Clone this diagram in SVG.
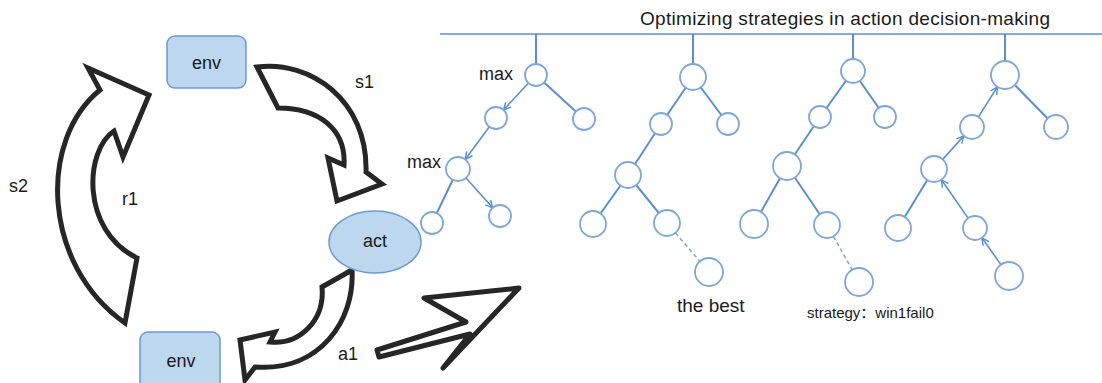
<svg xmlns="http://www.w3.org/2000/svg" width="1102" height="383" viewBox="0 0 1102 383">
<style>
  text { font-family: "Liberation Sans", "Noto Sans CJK SC", sans-serif; fill: #1a1a1a; }
  .box { fill: #bdd7ee; stroke: #6d9bd1; stroke-width: 1.5; }
  .blk { fill: #ffffff; stroke: #262626; stroke-width: 5; stroke-linejoin: miter; stroke-miterlimit: 6; }
  .ln { stroke: #5b8fd0; stroke-width: 2; fill: none; }
  .dash { stroke: #7ea6d8; stroke-width: 1.5; stroke-dasharray: 4 3; fill: none; }
  .arr { stroke: #5b8fd0; stroke-width: 1.6; fill: none; marker-end: url(#v); }
  .nd { fill: #ffffff; stroke: #7ea6d8; stroke-width: 1.8; }
  .lbl { font-size: 18px; }
</style>
<defs>
  <marker id="v" viewBox="0 0 10 10" refX="9" refY="5" markerWidth="9" markerHeight="9" markerUnits="userSpaceOnUse" orient="auto">
    <path d="M1,1 L9,5 L1,9" fill="none" stroke="#5b8fd0" stroke-width="1.6"/>
  </marker>
</defs>
<rect width="1102" height="383" fill="#ffffff"/>

<g id="connectors">
  <!-- cycle block arrows -->
  <path id="arrow-s1" class="blk" d="M257,67 C310,60 368,100 366,172 L382,184 L337,201 L328,158 L344,165 C346,130 320,108 278,108 Z"/>
  <path id="arrow-r1" class="blk" d="M125,323 C42,265 38,140 100,90 L88,68 L149,95 L123,157 L114,131 C85,150 80,230 137,258 Z"/>
  <path id="arrow-a1-curve" class="blk" d="M352,270 C355,320 320,372 255,367 L245,380 L240,340 L275,332 L270,342 C300,345 325,320 322,287 Z"/>
  <path id="arrow-a1" class="blk" style="stroke-linejoin:round" d="M377,350 L466,322 L424,298 L519,288 L443,368 L470,334 L379,357 Z"/>

  <!-- tree top rail -->
  <line class="ln" x1="440" y1="34" x2="1102" y2="34" style="stroke-width:1.6"/>
  <line class="ln" x1="536" y1="34" x2="536" y2="64"/>
  <line class="ln" x1="693" y1="34" x2="693" y2="64"/>
  <line class="ln" x1="853" y1="34" x2="853" y2="59"/>
  <line class="ln" x1="1005" y1="34" x2="1005" y2="61"/>

  <!-- tree 1 -->
  <line class="arr" x1="528.5" y1="83" x2="503.5" y2="110"/>
  <line class="ln" x1="536" y1="75" x2="584" y2="119"/>
  <line class="arr" x1="489.4" y1="126.8" x2="465.2" y2="159.4"/>
  <line class="ln" x1="458" y1="169" x2="432" y2="223"/>
  <line class="arr" x1="466" y1="178" x2="492.7" y2="207.8"/>

  <!-- tree 2 -->
  <line class="ln" x1="693" y1="77" x2="661" y2="124"/>
  <line class="ln" x1="693" y1="77" x2="728" y2="124"/>
  <line class="ln" x1="661" y1="124" x2="628" y2="175"/>
  <line class="ln" x1="628" y1="175" x2="593" y2="224"/>
  <line class="ln" x1="628" y1="175" x2="667" y2="223"/>
  <line class="dash" x1="675.5" y1="232.9" x2="699.9" y2="261.4"/>

  <!-- tree 3 -->
  <line class="ln" x1="853" y1="71" x2="820" y2="117"/>
  <line class="ln" x1="853" y1="71" x2="885" y2="117"/>
  <line class="ln" x1="820" y1="117" x2="787" y2="166"/>
  <line class="ln" x1="787" y1="166" x2="754" y2="224"/>
  <line class="ln" x1="787" y1="166" x2="827" y2="225"/>
  <line class="dash" x1="833.4" y1="236.3" x2="852.2" y2="269.8"/>

  <!-- tree 4 -->
  <line class="arr" x1="978.4" y1="116.9" x2="997.5" y2="86.8"/>
  <line class="ln" x1="1005" y1="75" x2="1056" y2="127"/>
  <line class="arr" x1="942.7" y1="159.4" x2="963.9" y2="135.9"/>
  <line class="ln" x1="934" y1="169" x2="898" y2="228"/>
  <line class="arr" x1="968.1" y1="218.1" x2="941.4" y2="179.7"/>
  <line class="arr" x1="1000.9" y1="264.6" x2="981.9" y2="237.8"/>
</g>

<g id="env-top">
  <rect class="box" x="167" y="36" width="79" height="52" rx="8"/>
  <text class="lbl" x="206.5" y="69" text-anchor="middle">env</text>
</g>
<g id="env-bottom">
  <rect class="box" x="140" y="332" width="80" height="60" rx="8"/>
  <text class="lbl" x="181" y="367" text-anchor="middle">env</text>
</g>
<g id="act">
  <ellipse class="box" cx="375" cy="242" rx="46" ry="31"/>
  <text class="lbl" x="375" y="247" text-anchor="middle">act</text>
</g>

<g id="cycle-labels">
  <text class="lbl" x="355" y="88">s1</text>
  <text class="lbl" x="9" y="192">s2</text>
  <text class="lbl" x="122" y="205">r1</text>
  <text class="lbl" x="338" y="360">a1</text>
</g>

<g id="title">
  <text x="640" y="25" font-size="19" textLength="410">Optimizing strategies in action decision-making</text>
</g>

<g id="tree1">
  <circle class="nd" cx="536" cy="75" r="11"/>
  <circle class="nd" cx="496" cy="118" r="11"/>
  <circle class="nd" cx="584" cy="119" r="11"/>
  <circle class="nd" cx="458" cy="169" r="12"/>
  <circle class="nd" cx="432" cy="223" r="11"/>
  <circle class="nd" cx="500" cy="216" r="11"/>
  <text class="lbl" x="479" y="80">max</text>
  <text class="lbl" x="407" y="168">max</text>
</g>

<g id="tree2">
  <circle class="nd" cx="693" cy="77" r="13"/>
  <circle class="nd" cx="661" cy="124" r="11"/>
  <circle class="nd" cx="728" cy="124" r="11"/>
  <circle class="nd" cx="628" cy="175" r="13"/>
  <circle class="nd" cx="593" cy="224" r="13"/>
  <circle class="nd" cx="667" cy="223" r="13"/>
  <circle class="nd" cx="709" cy="272" r="14"/>
  <text x="677" y="312" font-size="19">the best</text>
</g>

<g id="tree3">
  <circle class="nd" cx="853" cy="71" r="12"/>
  <circle class="nd" cx="820" cy="117" r="11"/>
  <circle class="nd" cx="885" cy="117" r="11"/>
  <circle class="nd" cx="787" cy="166" r="14"/>
  <circle class="nd" cx="754" cy="224" r="14"/>
  <circle class="nd" cx="827" cy="225" r="13"/>
  <circle class="nd" cx="859" cy="282" r="14"/>
  <text x="807" y="318" font-size="15">strategy：win1fail0</text>
</g>

<g id="tree4">
  <circle class="nd" cx="1005" cy="75" r="14"/>
  <circle class="nd" cx="972" cy="127" r="12"/>
  <circle class="nd" cx="1056" cy="127" r="12"/>
  <circle class="nd" cx="934" cy="169" r="13"/>
  <circle class="nd" cx="898" cy="228" r="13"/>
  <circle class="nd" cx="975" cy="228" r="12"/>
  <circle class="nd" cx="1009" cy="276" r="14"/>
</g>
</svg>
